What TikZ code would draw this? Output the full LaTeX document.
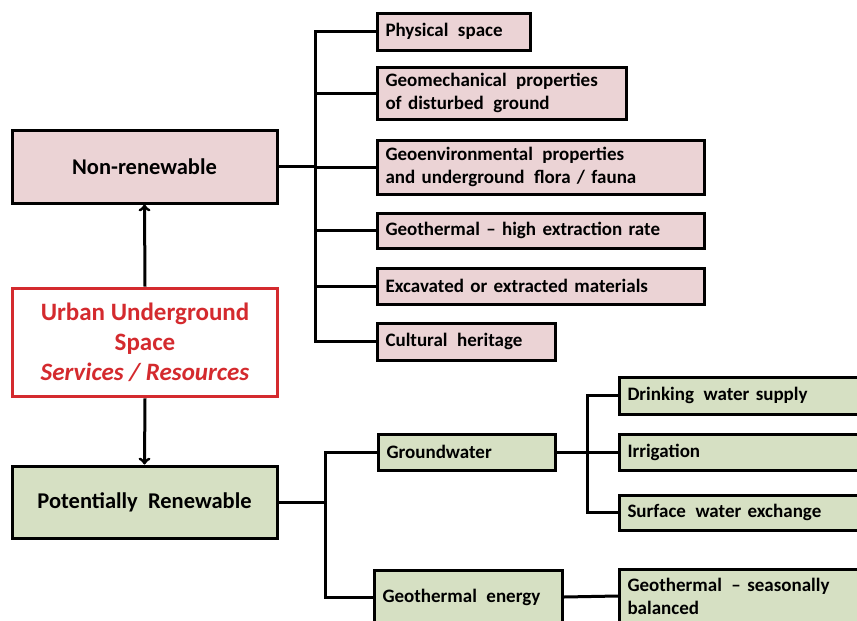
\documentclass[tikz,border=0pt]{standalone}
\usepackage{fontspec}
\setmainfont{Carlito}
\usetikzlibrary{calc}
\usetikzlibrary{arrows}
\definecolor{nonfill}{HTML}{EBD3D5}
\definecolor{renfill}{HTML}{D6E0C3}
\definecolor{uusred}{HTML}{D42A2E}

\begin{document}
\begin{tikzpicture} [x=1pt, y=-1pt, line width=3pt,
  box/.style={draw=black, line width=3pt, font=\bfseries\fontsize{22.5}{26}\selectfont, align=center, inner sep=0pt},
  leaf/.style={draw=black, line width=3pt, font=\bfseries\fontsize{19}{23}\selectfont, align=left, inner xsep=8pt, inner ysep=0pt},
  nonr/.style={fill=nonfill},
  ren/.style={fill=renfill}]
\clip (0,0) rectangle (857,621);
\fill[white] (0,0) rectangle (857,621);
% left column
\node[box, nonr, minimum width=265, minimum height=73] (nonren) at (144.5,166.5) {Non-renewable};
\node[box, draw=uusred, line width=3.8pt, text=uusred, fill=white, minimum width=265, minimum height=108,
      font=\bfseries\fontsize{25}{30}\selectfont] (uus) at (145,342.5) {Urban Underground\\Space\\\textit{Services / Resources}};
\node[box, ren, minimum width=265, minimum height=72] (potren) at (144.5,502) {Potentially\ \ Renewable};
\draw[black, ->, >=to] (uus.north) -- (nonren.south);
\draw[black, ->, >=to] (uus.south) -- (potren.north);
% non-renewable resources
\node[leaf, nonr, anchor=west, text width=137, minimum height=37] (phys) at (376,31.5) {Physical\,\ space};
\node[leaf, nonr, anchor=west, text width=233, minimum height=52] (geomech) at (376,93) {Geomechanical\,\ properties\\of disturbed\,\ ground};
\node[leaf, nonr, anchor=west, text width=311, minimum height=54] (geoenv) at (376,167) {Geoenvironmental\,\ properties\\and underground\,\ flora / fauna};
\node[leaf, nonr, anchor=west, text width=311, minimum height=35] (geohigh) at (376,230.5) {Geothermal -- high extraction rate};
\node[leaf, nonr, anchor=west, text width=311, minimum height=36] (excav) at (376,286) {Excavated or extracted materials};
\node[leaf, nonr, anchor=west, text width=162, minimum height=37] (cult) at (376,341.5) {Cultural\,\ heritage};
\coordinate (nbus) at (315,166.5);
\draw (nonren.east) -- (nbus);
\draw (phys.west) -- (nbus |- phys.west) -- (nbus |- cult.west) -- (cult.west);
\foreach \n in {geomech, geoenv, geohigh, excav}
  \draw (nbus |- \n.west) -- (\n.west);
% potentially renewable resources
\node[leaf, ren, anchor=west, text width=161, minimum height=36] (gwater) at (377,452) {Groundwater};
\node[leaf, ren, anchor=west, text width=172, minimum height=54] (genergy) at (373,597) {Geothermal\,\ energy};
\coordinate (rbus) at (325,502);
\draw (potren.east) -- (rbus);
\draw (gwater.west) -- (rbus |- gwater.west) -- (rbus |- genergy.west) -- (genergy.west);
% groundwater and geothermal uses
\node[leaf, ren, anchor=west, text width=236, minimum height=37] (drink) at (618,395.5) {Drinking\,\ water supply};
\node[leaf, ren, anchor=west, text width=236, minimum height=36] (irrig) at (618,452) {Irrigation};
\node[leaf, ren, anchor=west, text width=236, minimum height=35] (surf) at (618,512.5) {Surface\,\ water exchange};
\node[leaf, ren, anchor=west, text width=236, minimum height=54] (gseas) at (618,596) {Geothermal\,\ -- seasonally\\balanced};
\coordinate (gbus) at (587,452);
\draw (gwater.east) -- (irrig.west);
\draw (drink.west) -- (gbus |- drink.west) -- (gbus |- surf.west) -- (surf.west);
\draw (genergy.east) -- (gseas.west);
\end{tikzpicture}
\end{document}
